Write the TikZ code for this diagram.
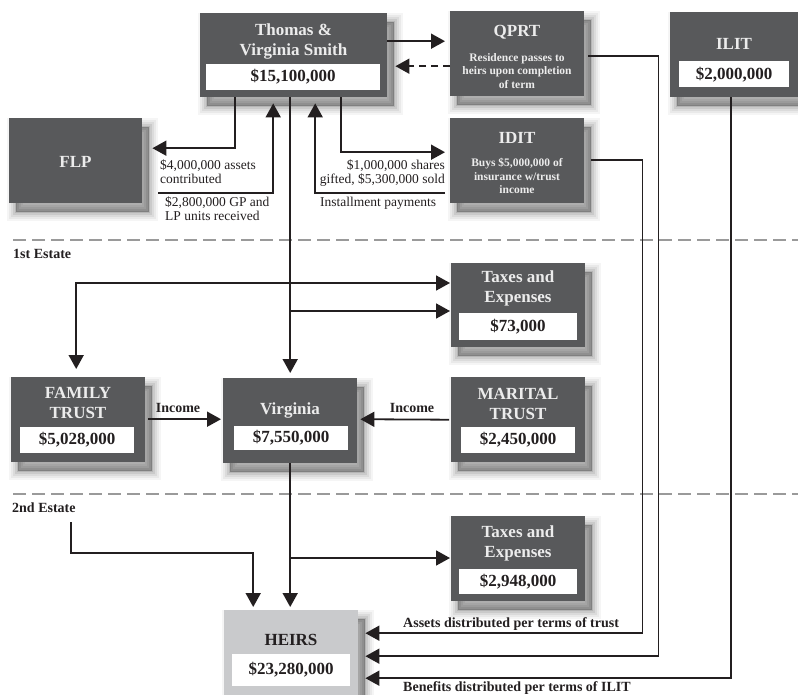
\documentclass[tikz,border=0pt]{standalone}
\usepackage{fontspec}
\setmainfont{Liberation Serif}
\usetikzlibrary{arrows.meta,shadows}
\definecolor{boxgray}{HTML}{58595B}
\definecolor{heirgray}{HTML}{C9CACC}
\definecolor{titlecol}{HTML}{ECECEC}
\definecolor{sepgray}{HTML}{9A9A9A}
\definecolor{ink}{HTML}{231F20}
\begin{document}
\begin{tikzpicture}[x=1pt,y=-1pt,
  shlayer/.style 2 args={general shadow={draw=black,line width=#1,draw opacity=#2,fill=black,fill opacity=#2,shadow xshift=7pt,shadow yshift=-9pt}},
  softshadow/.style={shlayer={18pt}{0.04},shlayer={14pt}{0.05},shlayer={10pt}{0.06},shlayer={6pt}{0.08},shlayer={2pt}{0.1}},
  box/.style={draw=none,fill=boxgray,inner sep=0pt,anchor=north west,softshadow},
  heirbox/.style={box,fill=heirgray},
  ttl/.style={text=titlecol,align=center,font=\fontsize{17}{20}\selectfont\bfseries,inner sep=0pt},
  desc/.style={text=titlecol,align=center,font=\fontsize{11.5}{13.5}\selectfont\bfseries,inner sep=0pt},
  valbox/.style={fill=white,inner sep=0pt,text=ink,font=\fontsize{17}{20}\selectfont\bfseries},
  lbl/.style={text=ink,inner sep=0pt,font=\fontsize{13.5}{14}\selectfont},
  blbl/.style={text=ink,inner sep=0pt,font=\fontsize{14}{15}\selectfont\bfseries},
  arr/.style={draw=ink,line width=1.8pt,-{Triangle[length=14pt,width=15pt]}},
  sep/.style={draw=sepgray,line width=2.5pt,dash pattern=on 13pt off 6pt}]
\useasboundingbox (0,0) rectangle (798,695);

% separators
\draw[sep] (13,240) -- (798,240);
\draw[sep] (13,494) -- (798,494);
\node[blbl,anchor=west] (est1) at (13,254) {1st Estate};
\node[blbl,anchor=west] (est2) at (12,508) {2nd Estate};

% boxes
\node[box,minimum width=187pt,minimum height=84pt] (tvs) at (200,13) {};
\node[ttl] (tvsT) at (293.5,41) {Thomas \&\\Virginia Smith};
\node[valbox,minimum width=174pt,minimum height=26pt] (tvsV) at (293,77) {\$15,100,000};

\node[box,minimum width=134pt,minimum height=85pt] (qprt) at (450,11) {};
\node[ttl] (qprtT) at (517,32) {QPRT};
\node[desc] (qprtD) at (517,71) {Residence passes to\\heirs upon completion\\of term};

\node[box,minimum width=128pt,minimum height=85pt] (ilit) at (670,12) {};
\node[ttl] (ilitT) at (734,44) {ILIT};
\node[valbox,minimum width=110pt,minimum height=26pt] (ilitV) at (734,74.5) {\$2,000,000};

\node[box,minimum width=133pt,minimum height=85pt] (flp) at (9,118) {};
\node[ttl] (flpT) at (75.5,162) {FLP};

\node[box,minimum width=134pt,minimum height=85pt] (idit) at (450,118) {};
\node[ttl] (iditT) at (517,138) {IDIT};
\node[desc] (iditD) at (517,176) {Buys \$5,000,000 of\\insurance w/trust\\income};

\node[box,minimum width=134pt,minimum height=84pt] (tax1) at (451,263) {};
\node[ttl] (tax1T) at (518,288.5) {Taxes and\\Expenses};
\node[valbox,minimum width=118pt,minimum height=27pt] (tax1V) at (518,326.5) {\$73,000};

\node[box,minimum width=134pt,minimum height=85pt] (fam) at (11,377) {};
\node[ttl] (famT) at (78,403) {FAMILY\\TRUST};
\node[valbox,minimum width=114pt,minimum height=26pt] (famV) at (77,440) {\$5,028,000};

\node[box,minimum width=134pt,minimum height=85pt] (vir) at (223,378) {};
\node[ttl] (virT) at (290,410) {Virginia};
\node[valbox,minimum width=114pt,minimum height=24pt] (virV) at (291,438) {\$7,550,000};

\node[box,minimum width=134pt,minimum height=85pt] (mar) at (451,377) {};
\node[ttl] (marT) at (518,403.5) {MARITAL\\TRUST};
\node[valbox,minimum width=114pt,minimum height=26pt] (marV) at (518,440) {\$2,450,000};

\node[box,minimum width=134pt,minimum height=85pt] (tax2) at (451,516) {};
\node[ttl] (tax2T) at (518,543.5) {Taxes and\\Expenses};
\node[valbox,minimum width=118pt,minimum height=25pt] (tax2V) at (518,581.5) {\$2,948,000};

\node[heirbox,minimum width=134pt,minimum height=95pt] (heirs) at (224,610) {};
\node[ttl,text=ink] (heirsT) at (291,640) {HEIRS};
\node[valbox,minimum width=118pt,minimum height=32pt] (heirsV) at (291,670) {\$23,280,000};

% top connectors
\draw[arr,shorten >=5pt] ([yshift=14pt]tvs.east) -- ([yshift=12.5pt]qprt.west);
\draw[arr,dash pattern=on 7pt off 5pt,shorten >=8pt] ([yshift=-12.5pt]qprt.west) -- ([yshift=-11pt]tvs.east);
\draw[arr,shorten >=10pt] ([xshift=-58.5pt]tvs.south) |- ([yshift=12.5pt]flp.east);
\draw[arr,shorten >=6pt] ([xshift=16pt,yshift=10pt]flp.south east) -| ([xshift=-20.5pt]tvs.south);
\draw[arr,shorten >=6pt] ([xshift=-5pt,yshift=10pt]idit.south west) -| ([xshift=21.5pt]tvs.south);
\draw[arr,shorten >=5pt] ([xshift=47.5pt]tvs.south) |- ([yshift=8.5pt]idit.west);

\node[lbl,anchor=north west,align=left] (l1) at (160,160) {\$4,000,000 assets\\contributed};
\node[lbl,anchor=north west,align=left] (l2) at (165,197) {\$2,800,000 GP and\\LP units received};
\node[lbl,anchor=north east,align=right] (l3) at (445,160) {\$1,000,000 shares\\gifted, \$5,300,000 sold};
\node[lbl,anchor=north west] (l4) at (320,197) {Installment payments};

% 1st estate
\coordinate (j1) at (290,283);
\coordinate (j2) at (290,311);
\draw[arr,shorten >=5pt] (tvs.south -| vir.north) -- (vir.north);
\draw[arr,shorten >=8pt] (j1) -| ([xshift=-2pt]fam.north);
\draw[arr,shorten >=1pt] (j1) -- (j1 -| tax1.west);
\draw[arr,shorten >=1pt] (j2) -- (j2 -| tax1.west);
\draw[arr,shorten >=2pt] ([xshift=3pt,yshift=0.5pt]fam.east) -- ([yshift=1.5pt]vir.west);
\draw[arr,shorten >=3pt] ([xshift=-2pt]mar.west) -- ([yshift=0.5pt]mar.west -| vir.east);
\node[blbl] (inc1) at (178,408) {Income};
\node[blbl] (inc2) at (412,408) {Income};

% 2nd estate
\coordinate (j3) at (290,558);
\coordinate (e2) at (71,522);
\draw[arr,shorten >=3pt] (vir.south) -- (vir.south |- heirs.north);
\draw[arr,shorten >=1pt] (j3) -- (j3 -| tax2.west);
\draw[arr,shorten >=3pt] (e2) -- ++(0,31) -| ([xshift=-38pt]heirs.north);

% distributions to heirs
\draw[arr,shorten >=7pt] ([xshift=7pt,yshift=0.5pt]idit.east) -- ++(51,0) |- ([yshift=24.5pt]heirs.east);
\draw[arr,shorten >=7pt] ([xshift=4pt,yshift=-2.5pt]qprt.east) -- ++(70,0) |- ([yshift=1.5pt]heirs.east);
\draw[arr,shorten >=7pt] ([xshift=-3pt]ilit.south) |- ([yshift=-20.5pt]heirs.east);
\node[blbl,anchor=west] (dist1) at (403,624) {Assets distributed per terms of trust};
\node[blbl,anchor=west] (dist2) at (403,688) {Benefits distributed per terms of ILIT};
\end{tikzpicture}
\end{document}
